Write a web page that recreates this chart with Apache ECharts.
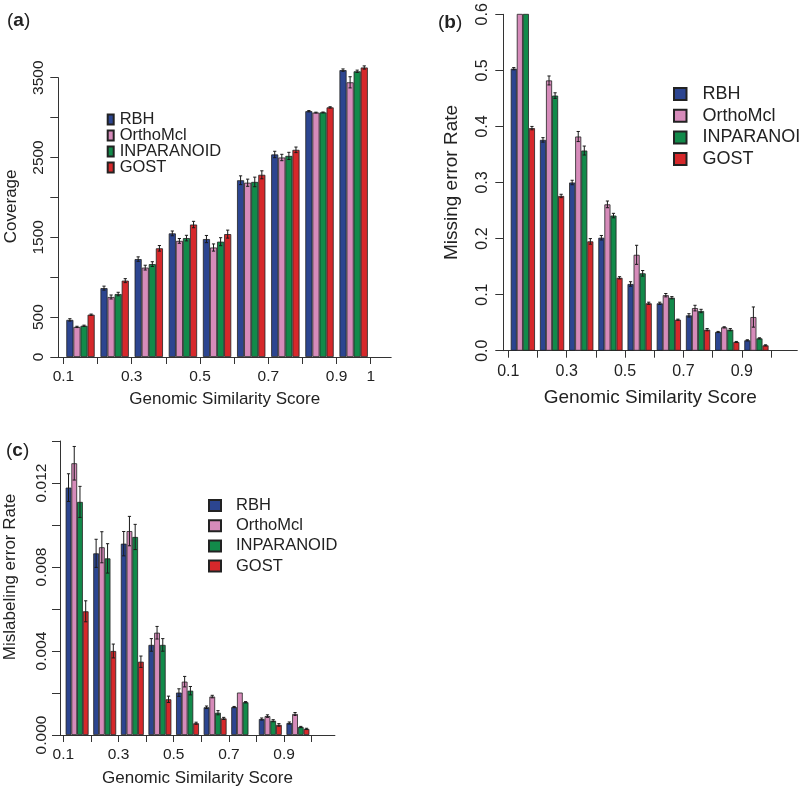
<!DOCTYPE html>
<html><head><meta charset="utf-8">
<script src="https://cdn.jsdelivr.net/npm/echarts@6/dist/echarts.min.js"></script>
<style>html,body{margin:0;padding:0;background:#fff}#c{width:800px;height:793px}</style>
</head><body><div id="c"></div>
<script>
// ---------- data ----------
const seriesNames = ['RBH', 'OrthoMcl', 'INPARANOID', 'GOST'];
const binCenters = [0.15, 0.25, 0.35, 0.45, 0.55, 0.65, 0.75, 0.85, 0.95];
const xTicks = [0.1, 0.2, 0.3, 0.4, 0.5, 0.6, 0.7, 0.8, 0.9, 1.0];
const xLabelsA = [0.1, 0.3, 0.5, 0.7, 0.9, 1.0];
const xLabelsBC = [0.1, 0.3, 0.5, 0.7, 0.9];

// (a) Coverage
const coverRBH  = [465, 863, 1227, 1549, 1478, 2215, 2538, 3080, 3595];
const coverOrtho = [377, 752, 1120, 1455, 1372, 2184, 2500, 3063, 3442];
const coverInp  = [391, 789, 1164, 1490, 1445, 2194, 2520, 3065, 3580];
const coverGost = [530, 957, 1362, 1660, 1540, 2283, 2596, 3128, 3628];
const coverErrRBH  = [15, 25, 28, 30, 45, 55, 40, 8, 15];
const coverErrOrtho = [8, 25, 30, 30, 45, 45, 40, 5, 70];
const coverErrInp  = [8, 22, 30, 35, 50, 60, 45, 5, 15];
const coverErrGost = [8, 25, 35, 40, 50, 50, 35, 8, 20];

// (b) Missing error rate (first OrthoMcl / INPARANOID bars run past the top of the axis)
const missRBH  = [0.503, 0.376, 0.300, 0.2015, 0.119, 0.0845, 0.063, 0.0334, 0.0185];
const missOrtho = [0.64, 0.482, 0.382, 0.261, 0.171, 0.099, 0.076, 0.0417, 0.060];
const missInp  = [0.63, 0.455, 0.357, 0.241, 0.138, 0.0945, 0.0708, 0.0375, 0.022];
const missGost = [0.397, 0.276, 0.195, 0.130, 0.0845, 0.0553, 0.0375, 0.0155, 0.0095];
const missErrRBH  = [0.002, 0.004, 0.004, 0.004, 0.004, 0.002, 0.003, 0.001, 0.001];
const missErrOrtho = [0, 0.008, 0.009, 0.006, 0.017, 0.003, 0.005, 0.001, 0.018];
const missErrInp  = [0, 0.005, 0.008, 0.004, 0.005, 0.002, 0.003, 0.002, 0.001];
const missErrGost = [0.003, 0.003, 0.005, 0.002, 0.002, 0.001, 0.002, 0.001, 0.001];

// (c) Mislabeling error rate
const misRBH  = [0.01178, 0.00865, 0.00911, 0.00429, 0.00202, 0.00132, 0.00133, 0.00076, 0.00057];
const misOrtho = [0.01294, 0.00894, 0.00971, 0.00487, 0.00254, 0.00183, 0.00202, 0.00090, 0.00100];
const misInp  = [0.01110, 0.00841, 0.00943, 0.00429, 0.00211, 0.00106, 0.00156, 0.00068, 0.00038];
const misGost = [0.00589, 0.00400, 0.00349, 0.00170, 0.00056, 0.00079, null, 0.00048, 0.00029];
const misErrRBH  = [0.00066, 0.00067, 0.00058, 0.00030, 0.00018, 0.00006, 0.00003, 0.00005, 0.00005];
const misErrOrtho = [0.00080, 0.00074, 0.00070, 0.00030, 0.00025, 0.00006, 0, 0.00006, 0.00007];
const misErrInp  = [0.00074, 0.00070, 0.00060, 0.00030, 0.00020, 0.00010, 0.00003, 0.00005, 0.00003];
const misErrGost = [0.00050, 0.00033, 0.00027, 0.00015, 0.00005, 0.00005, null, 0.00006, 0.00003];

// ---------- styling ----------
const colors = ['#2C4590', '#D68BBA', '#128A4A', '#D6282B'];
const FONT = '"Liberation Sans", Arial, sans-serif';
const TXT = '#222';
const AX = '#333';
const GAP = 0.17;
const binW = binCenters[1] - binCenters[0];

const panels = [
  { vals: [coverRBH, coverOrtho, coverInp, coverGost], errs: [coverErrRBH, coverErrOrtho, coverErrInp, coverErrGost] },
  { vals: [missRBH, missOrtho, missInp, missGost], errs: [missErrRBH, missErrOrtho, missErrInp, missErrGost] },
  { vals: [misRBH, misOrtho, misInp, misGost], errs: [misErrRBH, misErrOrtho, misErrInp, misErrGost] }
];

function fmtX(v) { return Math.abs(v - 1) < 1e-9 ? '1' : v.toFixed(1); }

function errRender(si) {
  return function (params, api) {
    const x = api.value(0), y = api.value(1), e = api.value(2);
    if (!e || isNaN(y)) return null;
    const full = api.size([binW, 0])[0];
    const bw = full * (1 - GAP) / seriesNames.length;
    const off = (si - (seriesNames.length - 1) / 2) * bw;
    const t = api.coord([x, y + e]);
    const b = api.coord([x, y - e]);
    const cx = t[0] + off;
    const cap = 1.6;
    const st = { stroke: '#1a1a1a', lineWidth: 1 };
    return { type: 'group', children: [
      { type: 'line', shape: { x1: cx, y1: t[1], x2: cx, y2: b[1] }, style: st },
      { type: 'line', shape: { x1: cx - cap, y1: t[1], x2: cx + cap, y2: t[1] }, style: st },
      { type: 'line', shape: { x1: cx - cap, y1: b[1], x2: cx + cap, y2: b[1] }, style: st }
    ]};
  };
}

const series = [];
panels.forEach((p, pi) => {
  p.vals.forEach((vals, si) => {
    series.push({
      type: 'bar', name: seriesNames[si], xAxisIndex: pi, yAxisIndex: pi,
      data: binCenters.map((x, i) => [x, vals[i] == null ? '-' : vals[i]]),
      barGap: '0%', barCategoryGap: (GAP * 100) + '%',
      clip: pi === 1,
      itemStyle: { color: colors[si], borderColor: '#222', borderWidth: 0.8 },
      emphasis: { disabled: true }, animation: false
    });
  });
  p.vals.forEach((vals, si) => {
    series.push({
      type: 'custom', xAxisIndex: pi, yAxisIndex: pi, z: 5, clip: false,
      encode: { x: 0, y: 1 },
      data: binCenters.map((x, i) => [x, vals[i] == null ? NaN : vals[i], p.errs[si][i] == null ? 0 : p.errs[si][i]]),
      renderItem: errRender(si), animation: false, silent: true
    });
  });
});

const grids = [
  { left: 58.3, top: 77.7, width: 332.9, height: 279.3 },
  { left: 503.3, top: 14.3, width: 294, height: 336.4 },
  { left: 60, top: 441, width: 274.9, height: 294 }
];

function mkX(gi, min, max, labels, fs, margin, nameFs, nameGap) {
  return {
    type: 'value', gridIndex: gi, min: min, max: max,
    name: 'Genomic Similarity Score', nameLocation: 'middle', nameGap: nameGap,
    nameTextStyle: { fontFamily: FONT, fontSize: nameFs, color: TXT },
    splitLine: { show: false },
    axisLine: { show: true, lineStyle: { color: AX, width: 1 } },
    axisTick: { show: true, customValues: xTicks, length: 7, lineStyle: { color: AX, width: 1 } },
    axisLabel: { customValues: labels, formatter: fmtX, fontFamily: FONT, fontSize: fs, color: TXT, margin: margin }
  };
}
function mkY(gi, max, interval, name, fmt, fs, margin, nameFs, nameGap, namePad) {
  return {
    type: 'value', gridIndex: gi, min: 0, max: max, interval: interval,
    name: name, nameLocation: 'middle', nameGap: nameGap,
    nameTextStyle: { fontFamily: FONT, fontSize: nameFs, color: TXT, padding: namePad },
    splitLine: { show: false },
    axisLine: { show: true, lineStyle: { color: AX, width: 1 } },
    axisTick: { show: true, length: 8, lineStyle: { color: AX, width: 1 } },
    axisLabel: { rotate: 90, formatter: fmt, fontFamily: FONT, fontSize: fs, color: TXT, margin: margin, showMinLabel: true, showMaxLabel: true }
  };
}

function mkLegend(left, top, iw, ih, gap, fs, lh, pad) {
  return {
    orient: 'vertical', left: left, top: top, itemWidth: iw, itemHeight: ih, itemGap: gap,
    icon: 'rect', data: seriesNames, selectedMode: false,
    textStyle: { fontFamily: FONT, fontSize: fs, color: TXT, lineHeight: lh, padding: [0, 0, 0, pad] }
  };
}

function mkTitle(letter, left, top, fs) {
  return {
    text: '({b|' + letter + '})', left: left, top: top,
    textStyle: { fontFamily: FONT, fontSize: fs, fontWeight: 'normal', color: TXT,
      rich: { b: { fontFamily: FONT, fontSize: fs, fontWeight: 'bold', color: TXT } } }
  };
}

const option = {
  backgroundColor: '#fff',
  animation: false,
  title: [mkTitle('a', 2, 6, 19), mkTitle('b', 433, 8, 19), mkTitle('c', 1, 436, 19)],
  legend: [
    mkLegend(101.7, 106, 6, 10, -1, 16.5, 15.5, 1),
    mkLegend(668, 80, 12.5, 12, 3.7, 18, 18, 11),
    mkLegend(203, 492, 12, 11, 3.2, 16.5, 16.5, 10)
  ],
  grid: grids.map(g => Object.assign({ outerBoundsMode: 'none', containLabel: false }, g)),
  xAxis: [
    mkX(0, 0.085, 1.06, xLabelsA, 15.5, 12, 17, 34),
    mkX(1, 0.083, 1.09, xLabelsBC, 16, 13, 19, 38),
    mkX(2, 0.088, 1.084, xLabelsBC, 15.5, 12, 17, 35)
  ],
  yAxis: [
    mkY(0, 3500, 500, 'Coverage', v => ([1000, 2000, 3000].indexOf(v) >= 0 ? '' : String(v)), 15.5, 12, 17, 38, [0, 0, 0, 22]),
    mkY(1, 0.6, 0.1, 'Missing error Rate', v => v.toFixed(1), 16, 13, 19, 42, [0, 0, 0, 0]),
    mkY(2, 0.014, 0.002, 'Mislabeling error Rate', v => (Math.round(v * 1000) % 4 === 0 ? v.toFixed(3) : ''), 15.5, 10, 17, 41, [0, 0, 0, 22])
  ],
  series: series
};

const chart = echarts.init(document.getElementById('c'), null, { renderer: 'canvas' });
chart.setOption(option);
</script>
</body></html>
